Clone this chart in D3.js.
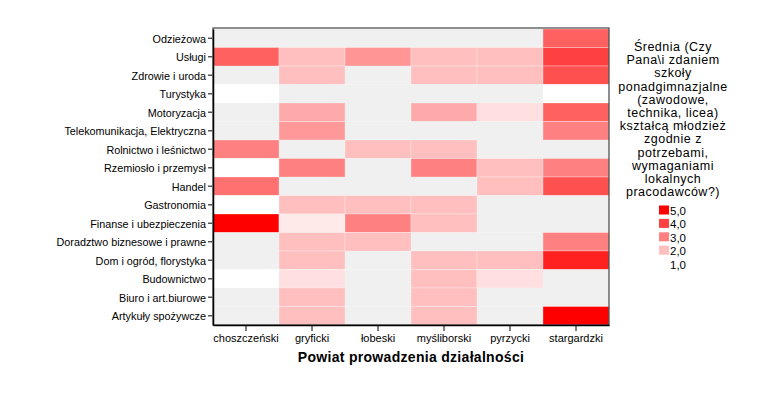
<!DOCTYPE html>
<html><head><meta charset="utf-8">
<script src="https://cdn.jsdelivr.net/npm/d3@7"></script>
<style>body{margin:0;background:#fff}svg{display:block}text{font-family:Arial,"Liberation Sans",sans-serif}</style>
</head><body><svg id="c" width="767" height="408"></svg>
<script>
const rows = ["Odzieżowa","Usługi","Zdrowie i uroda","Turystyka","Motoryzacja","Telekomunikacja, Elektryczna","Rolnictwo i leśnictwo","Rzemiosło i przemysł","Handel","Gastronomia","Finanse i ubezpieczenia","Doradztwo biznesowe i prawne","Dom i ogród, florystyka","Budownictwo","Biuro i art.biurowe","Artykuły spożywcze"];
const cols = ["choszczeński","gryficki","łobeski","myśliborski","pyrzycki","stargardzki"];
// values per column (null = brak danych)
const choszczenski = [null,3.5,null,1,null,null,3.0,1,3.25,1,5,null,null,1,null,null];
const gryficki     = [null,2,2,null,2.33,2.6,null,3,null,2,1.33,2,2,1.5,2,2];
const lobeski      = [null,2.67,null,null,null,null,2,null,null,2,3,2,null,null,null,null];
const mysliborski  = [null,2,2,null,2.33,null,2,3,null,2,2,null,2,2,2,2];
const pyrzycki     = [null,2,2,null,1.5,null,null,2,2,null,null,null,2,1.5,null,null];
const stargardzki  = [3.5,4,3.75,1,3.5,3,null,3,3.75,null,null,3,4.5,null,null,5];
const legendValues = [5,4,3,2,1];
const legendTitle = ["Średnia (Czy","Pana\\i zdaniem","szkoły","ponadgimnazjalne","(zawodowe,","technika, licea)","kształcą młodzież","zgodnie z","potrzebami,","wymaganiami","lokalnych","pracodawców?)"];
const xTitle = "Powiat prowadzenia działalności";

const series = [choszczenski,gryficki,lobeski,mysliborski,pyrzycki,stargardzki];
const cells = [];
series.forEach((s,ci)=>s.forEach((v,ri)=>cells.push({c:cols[ci],r:rows[ri],v})));

const svg = d3.select("#c");
const L=213,R=609,T=29,B=325;
const x = d3.scaleBand().domain(cols).range([L,R]);
const y = d3.scaleBand().domain(rows).range([T,B]);
const color = d3.scaleLinear().domain([1,5]).range(["#ffffff","#ff0000"]);

svg.append("g").selectAll("rect").data(cells).join("rect")
  .attr("x",d=>x(d.c)).attr("y",d=>y(d.r))
  .attr("width",x.bandwidth()).attr("height",y.bandwidth())
  .attr("fill",d=>d.v==null?"#f0f0f0":color(d.v))
  .attr("stroke",d=>d.v==null?"none":"rgba(255,255,255,0.3)").attr("stroke-width",1);

// frame
svg.append("rect").attr("x",L).attr("y",T-1).attr("width",R-L).attr("height",B-T+1)
  .attr("fill","none").attr("stroke","#444").attr("stroke-width",1.2);

const ya = svg.append("g").attr("transform",`translate(${L},0)`).call(d3.axisLeft(y).tickSize(5).tickSizeOuter(0).tickPadding(2));
ya.select(".domain").attr("stroke","#000").attr("stroke-width",1.5);
ya.selectAll(".tick line").attr("stroke","#555").attr("stroke-width",1.5);
ya.selectAll("text").attr("font-size",10.8).attr("fill","#000").attr("dy","0.42em").style("font-family","Arial,'Liberation Sans',sans-serif");

const xa = svg.append("g").attr("transform",`translate(0,${B})`).call(d3.axisBottom(x).tickSize(6).tickSizeOuter(0).tickPadding(3));
xa.select(".domain").attr("stroke","#000").attr("stroke-width",1.5);
xa.selectAll(".tick line").attr("stroke","#000");
xa.selectAll("text").attr("font-size",11).attr("fill","#000").style("font-family","Arial,'Liberation Sans',sans-serif");

svg.append("text").attr("x",(L+R)/2).attr("y",362).attr("text-anchor","middle")
  .attr("font-size",14).attr("font-weight","bold").attr("letter-spacing",0.3).text(xTitle);

// legend
const lg = svg.append("g");
lg.selectAll("text.t").data(legendTitle).join("text").attr("class","t")
  .attr("x",673).attr("y",(d,i)=>51+i*13.2).attr("text-anchor","middle")
  .attr("font-size",12.5).attr("letter-spacing",0.5).text(d=>d);
const ls = d3.scaleBand().domain(legendValues).range([204,271]);
lg.selectAll("rect").data(legendValues).join("rect")
  .attr("x",659).attr("y",d=>ls(d)+1.5).attr("width",10).attr("height",9)
  .attr("fill",d=>color(d));
lg.selectAll("text.v").data(legendValues).join("text").attr("class","v")
  .attr("x",670).attr("y",d=>ls(d)+11).attr("font-size",11.5).text(d=>d.toFixed(1).replace(".",","));
</script></body></html>
